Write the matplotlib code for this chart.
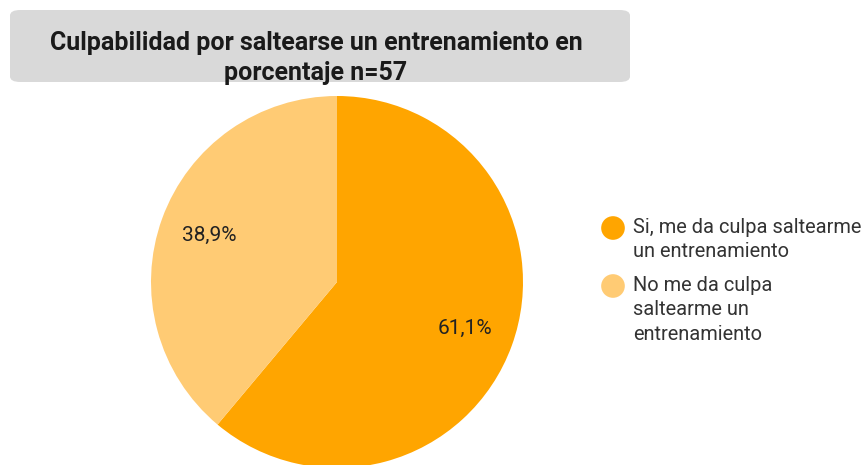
import matplotlib.pyplot as plt
from matplotlib.patches import FancyBboxPatch

plt.rcParams['font.family'] = ['Roboto', 'DejaVu Sans']

title = 'Culpabilidad por saltearse un entrenamiento en\nporcentaje n=57'
labels = ['Si, me da culpa saltearme\nun entrenamiento',
          'No me da culpa\nsaltearme un\nentrenamiento']
values = [61.1, 38.9]
colors = ['#FFA500', '#FFCB74']

W, H = 866, 465
fig = plt.figure(figsize=(W / 100, H / 100), dpi=100)

# title box (pixel coords converted to figure fractions)
box = FancyBboxPatch((10 / W, 1 - 82 / H), 620 / W, 72 / H,
                     boxstyle='round,pad=0,rounding_size=0.012',
                     transform=fig.transFigure, facecolor='#D9D9D9',
                     edgecolor='none', zorder=0)
fig.patches.append(box)
fig.text(316 / W, 1 - 58 / H, title, ha='center', va='center',
         fontsize=18, fontweight='bold', color='#1a1a1a', linespacing=1.3)

# pie
r = 186
cx, cy = 337, 282
ax = fig.add_axes([(cx - r) / W, (H - cy - r) / H, 2 * r / W, 2 * r / H])
ax.pie(values, colors=colors, startangle=90, counterclock=False,
       autopct=lambda p: f'{p:.1f}%'.replace('.', ','), pctdistance=0.73,
       textprops={'fontsize': 15, 'color': '#222222'},
       wedgeprops={'linewidth': 0})
ax.set_xlim(-1, 1)
ax.set_ylim(-1, 1)
ax.set_aspect('equal')
ax.axis('off')

# legend, drawn by hand so the marker sits on the first line
leg = fig.add_axes([0, 0, 1, 1], facecolor='none')
leg.set_xlim(0, W)
leg.set_ylim(H, 0)
leg.axis('off')
y = 228
for lab, col in zip(labels, colors):
    leg.scatter([613], [y], s=290, color=col, edgecolors='none')
    leg.text(633, y - 10, lab, ha='left', va='top', fontsize=14.4,
             color='#333333', linespacing=1.36)
    y += 24.5 * (lab.count('\n') + 1) + 9

fig.savefig('out.png', dpi=100)
